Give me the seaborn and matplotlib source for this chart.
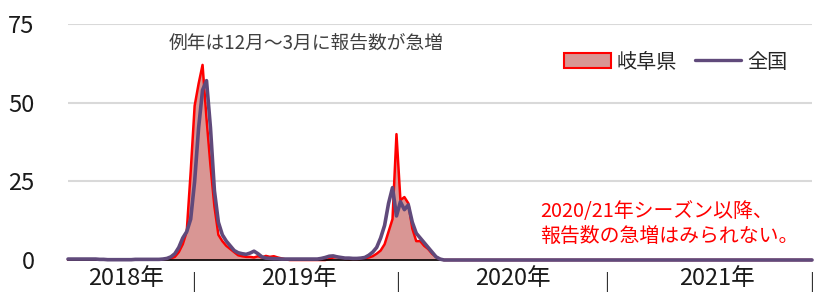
import numpy as np
import pandas as pd
import matplotlib
matplotlib.use("Agg")
import matplotlib.pyplot as plt
import seaborn as sns
from matplotlib.patches import Patch
from matplotlib.lines import Line2D

# weekly reports per sentinel, from week 21 of 2018 to the end of 2021
gifu = [0.1, 0.1, 0.1, 0.1, 0.1, 0.1, 0.1, 0.1, 0.1, 0.1,
        0.1, 0.1, 0.1, 0.1, 0.1, 0.1, 0.1, 0.1, 0.1, 0.1,
        0.1, 0.1, 0.1, 0.1, 0.2, 0.3, 0.5, 1.0, 2.5, 5.0,
        9.0, 28.0, 49.0, 56.0, 62.0, 45.0, 30.0, 17.0, 8.0, 6.0,
        4.5, 3.5, 2.5, 1.5, 1.2, 1.0, 1.0, 0.8, 1.2, 0.8,
        1.3, 1.0, 1.2, 0.8, 0.5, 0.2, 0.0, 0.0, 0.0, 0.0,
        0.0, 0.0, 0.0, 0.0, 0.0, 0.0, 0.3, 0.8, 1.0, 0.6,
        0.3, 0.2, 0.3, 0.2, 0.3, 0.5, 0.8, 1.2, 2.0, 3.0,
        5.0, 9.0, 13.0, 40.0, 19.0, 20.0, 18.0, 10.0, 6.0, 6.0,
        4.5, 3.5, 2.0, 1.0, 0.3] + [0.0] * 94
national = [0.3, 0.3, 0.3, 0.3, 0.3, 0.3, 0.3, 0.3, 0.2, 0.2,
            0.1, 0.1, 0.1, 0.1, 0.1, 0.1, 0.1, 0.2, 0.2, 0.2,
            0.2, 0.2, 0.2, 0.2, 0.3, 0.5, 1.0, 2.0, 4.0, 7.0,
            9.0, 13.0, 25.0, 42.0, 54.0, 57.0, 42.0, 22.0, 12.0, 8.0,
            6.0, 4.5, 3.0, 2.3, 2.0, 1.8, 2.2, 2.8, 2.0, 1.0,
            0.6, 0.5, 0.4, 0.4, 0.3, 0.3, 0.3, 0.3, 0.3, 0.3,
            0.3, 0.3, 0.3, 0.3, 0.5, 0.8, 1.2, 1.3, 1.0, 0.8,
            0.6, 0.6, 0.5, 0.5, 0.6, 0.8, 1.5, 2.5, 4.0, 7.0,
            11.0, 18.0, 23.0, 14.0, 18.5, 16.0, 17.5, 12.0, 8.5, 7.0,
            5.5, 4.0, 2.5, 1.0, 0.3] + [0.0] * 94

year_labels = ["2018年", "2019年", "2020年", "2021年"]
year_label_pos = [14.7, 58.4, 112.5, 164.0]
year_break_pos = [31.8, 83.4, 136.2, 187.8]

df = pd.DataFrame({"week": np.arange(len(gifu)), "岐阜県": gifu, "全国": national})

sns.set_theme(style="white")
plt.rcParams["font.family"] = ["Noto Sans CJK JP", "DejaVu Sans"]

fig = plt.figure(figsize=(8.16, 2.95), dpi=100)
ax = fig.add_axes([68 / 816, 1 - 260 / 295, 744 / 816, 236 / 295])

red = "#FF0000"
purple = "#604A7B"
pink = "#D99694"

ax.fill_between(df["week"], df["岐阜県"], 0, color=pink, lw=0, zorder=2)
sns.lineplot(data=df, x="week", y="岐阜県", color=red, lw=1.8, ax=ax, zorder=3)
ax.axhline(0, color="black", lw=1.2, zorder=3.5, clip_on=False)
sns.lineplot(data=df, x="week", y="全国", color=purple, lw=2.6, ax=ax, zorder=4)
for ln in ax.get_lines():
    ln.set_clip_on(False)

ax.set_xlim(0, 188)
ax.set_ylim(0, 75)
ax.set_yticks([0, 25, 50, 75])
ax.yaxis.grid(True, color="#D9D9D9", lw=1.5, zorder=0)
ax.tick_params(axis="y", length=0, pad=24, labelsize=17, labelcolor="#1a1a1a")
ax.set_xticks(year_label_pos, labels=year_labels)
ax.set_xticks(year_break_pos, labels=["|"] * 4, minor=True)
ax.tick_params(axis="x", which="major", length=0, pad=5, labelsize=17, labelcolor="#1a1a1a")
ax.tick_params(axis="x", which="minor", length=0, pad=9, labelsize=13, labelcolor="#333333")
ax.set_xlabel("")
ax.set_ylabel("")
for s in ax.spines.values():
    s.set_visible(False)

handles = [Patch(facecolor=pink, edgecolor=red, lw=1.5),
           Line2D([], [], color=purple, lw=2.4)]
ax.legend(handles, ["岐阜県", "全国"], ncol=2, frameon=False, fontsize=14.5,
          loc="center", bbox_to_anchor=((676 - 68) / 744, (260 - 62) / 236),
          bbox_transform=ax.transAxes, handlelength=2.3, handletextpad=0.3,
          columnspacing=0.9, labelcolor="#262626")

fig.text(306 / 816, 1 - 43 / 295, "例年は12月～3月に報告数が急増", ha="center", va="center",
         fontsize=13.5, color="#404040")
fig.text(540 / 816, 1 - 224 / 295, "2020/21年シーズン以降、\n報告数の急増はみられない。",
         ha="left", va="center", fontsize=14.3, color=red, linespacing=1.2)

fig.savefig("out.png", dpi=100)
